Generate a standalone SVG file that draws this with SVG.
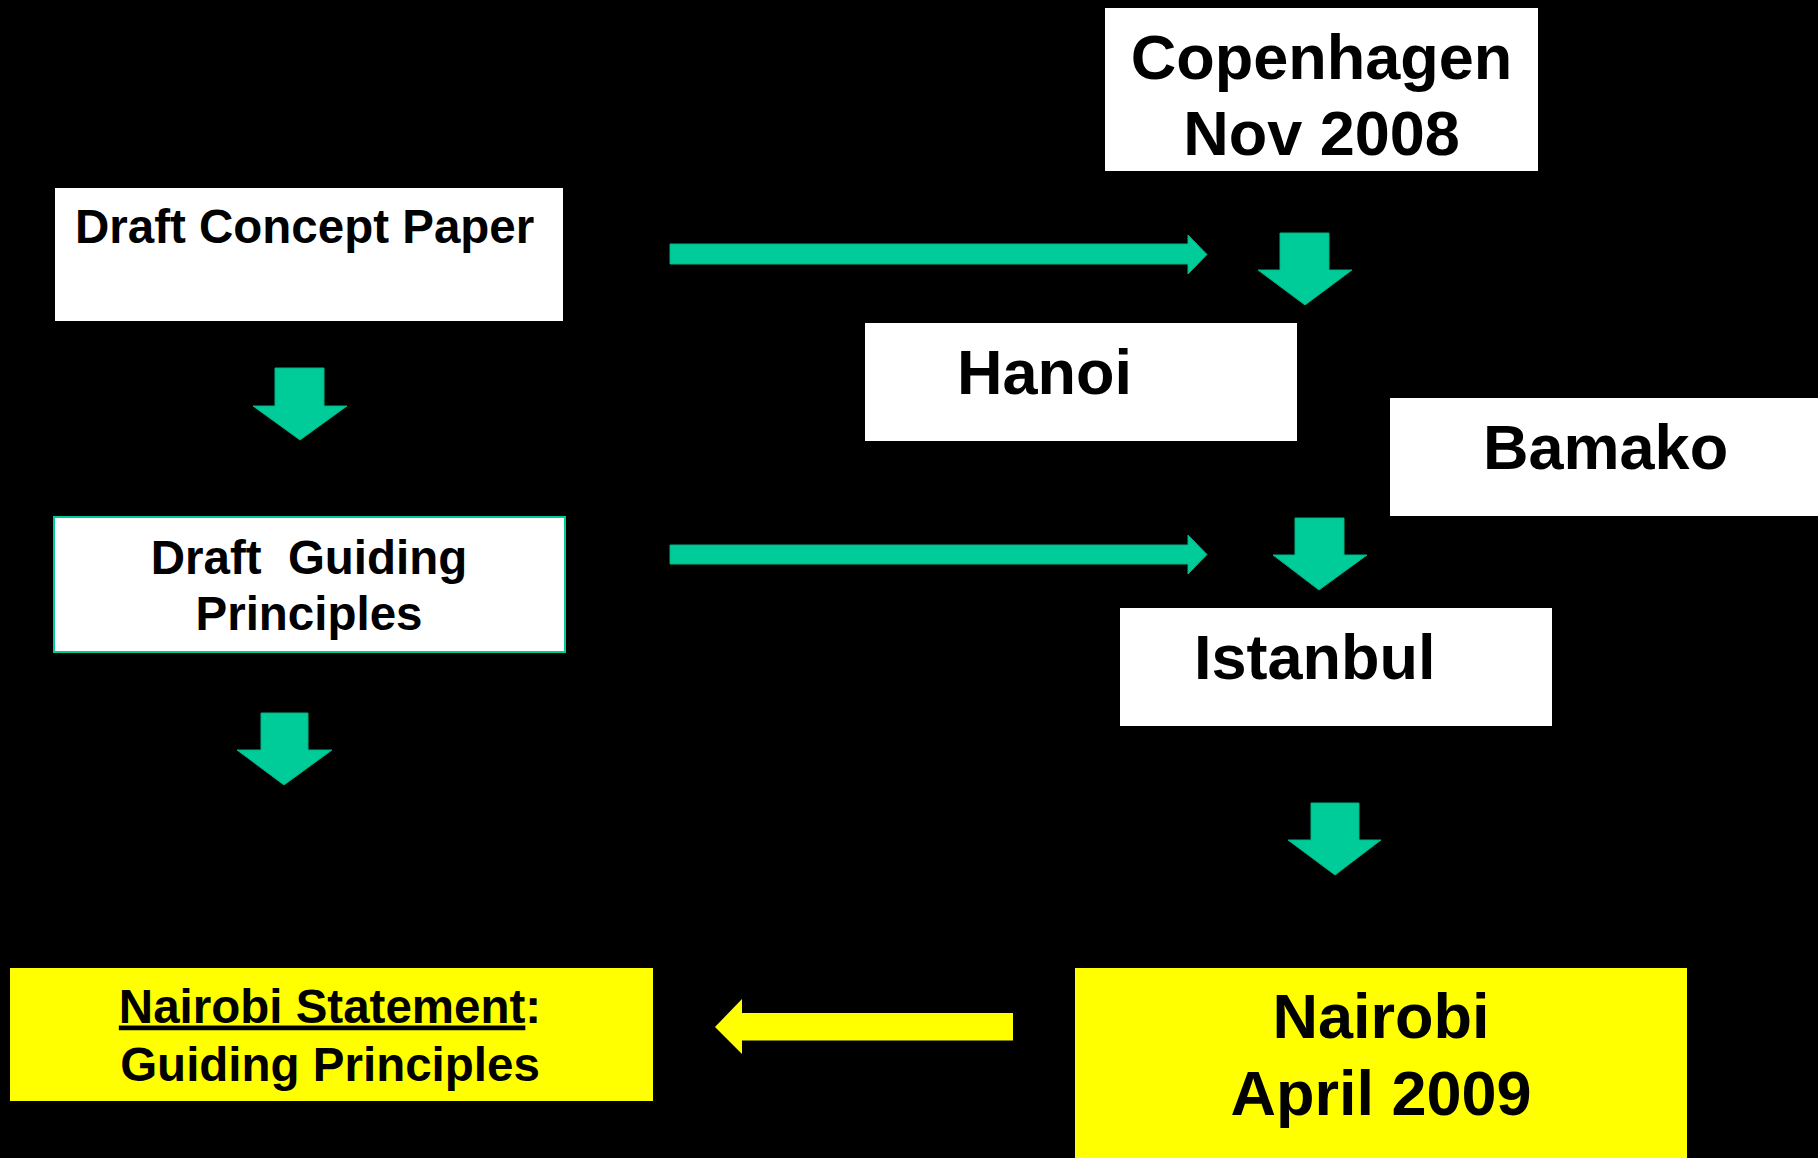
<svg xmlns="http://www.w3.org/2000/svg" width="1818" height="1158" viewBox="0 0 1818 1158">
<style>
.box{fill:#ffffff}
.ybox{fill:#ffff00}
.t{font-family:"Liberation Sans",Arial,sans-serif;font-weight:bold;fill:#000000}
.s{font-size:47.5px}
.l{font-size:63px}
.arr{fill:#00cc99;stroke:#00b386;stroke-width:1}
.yarr{fill:#ffff00}
</style>
<rect width="1818" height="1158" fill="#000000"/>
<g id="connectors">
<polygon class="arr" points="670,244 1188,244 1188,235 1207,254.5 1188,274 1188,264 670,264"/>
<polygon class="arr" points="670,545 1188,545 1188,535 1207,554.5 1188,574 1188,564 670,564"/>
<polygon class="arr" points="275,368 324,368 324,406 347,406 300,440 253,406 275,406"/>
<polygon class="arr" points="261,713 308,713 308,750 332,750 284,785 237,750 261,750"/>
<polygon class="arr" points="1280,233 1329,233 1329,270 1352,270 1305,305 1258,270 1280,270"/>
<polygon class="arr" points="1295,518 1344,518 1344,555 1367,555 1319,590 1273,555 1295,555"/>
<polygon class="arr" points="1311,803 1359,803 1359,840 1381,840 1335,875 1288,840 1311,840"/>
<polygon class="yarr" points="1013,1013 742,1013 742,999 715,1027 742,1054 742,1040.5 1013,1040.5"/>
</g>
<g id="draft-concept">
<rect class="box" x="55" y="188" width="508" height="133"/>
<text class="t s" x="75" y="243">Draft Concept Paper</text>
</g>
<g id="draft-guiding">
<rect class="box" x="54" y="517" width="511" height="135" stroke="#00cc99" stroke-width="2"/>
<text class="t s" x="309" y="574" text-anchor="middle" xml:space="preserve">Draft  Guiding</text>
<text class="t s" x="309" y="630" text-anchor="middle">Principles</text>
</g>
<g id="copenhagen">
<rect class="box" x="1105" y="8" width="433" height="163"/>
<text class="t l" x="1321.5" y="79" text-anchor="middle">Copenhagen</text>
<text class="t l" x="1321.5" y="155" text-anchor="middle">Nov 2008</text>
</g>
<g id="hanoi">
<rect class="box" x="865" y="323" width="432" height="118"/>
<text class="t l" x="957" y="393.5">Hanoi</text>
</g>
<g id="bamako">
<rect class="box" x="1390" y="398" width="428" height="118"/>
<text class="t l" x="1483" y="468.5">Bamako</text>
</g>
<g id="istanbul">
<rect class="box" x="1120" y="608" width="432" height="118"/>
<text class="t l" x="1194" y="679">Istanbul</text>
</g>
<g id="nairobi-statement">
<rect class="ybox" x="10" y="968" width="643" height="133"/>
<text class="t s" x="330" y="1022.5" text-anchor="middle"><tspan text-decoration="underline">Nairobi Statement</tspan>:</text>
<text class="t s" x="330" y="1081" text-anchor="middle">Guiding Principles</text>
</g>
<g id="nairobi">
<rect class="ybox" x="1075" y="968" width="612" height="190"/>
<text class="t l" x="1381" y="1037.5" text-anchor="middle">Nairobi</text>
<text class="t l" x="1381" y="1115" text-anchor="middle">April 2009</text>
</g>
</svg>
